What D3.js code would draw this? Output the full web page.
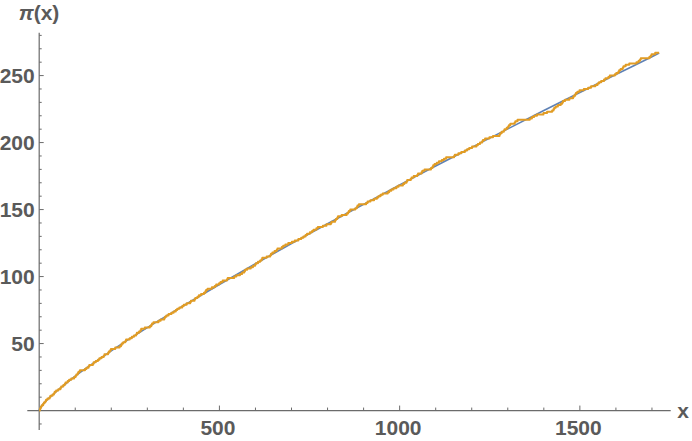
<!DOCTYPE html>
<html lang="en">
<head>
<meta charset="UTF-8">
<title>Prime counting</title>
<script src="https://d3js.org/d3.v7.min.js"></script>
<style>
    body { margin: 0; background: #fff; }
    .tickLabel { font-family: "Liberation Sans", Arial, sans-serif; font-weight: bold; font-size: 21px; fill: #5a5a5a; }
</style>
</head>
<body>
<script>

    // primes below the end of the plot range (jumps of pi(x))
    var primes = [2, 3, 5, 7, 11, 13, 17, 19, 23, 29, 31, 37, 41, 43, 47, 53, 59, 61, 67, 71, 73, 79, 83, 89, 97,
        101, 103, 107, 109, 113, 127, 131, 137, 139, 149, 151, 157, 163, 167, 173, 179, 181, 191, 193, 197, 199,
        211, 223, 227, 229, 233, 239, 241, 251, 257, 263, 269, 271, 277, 281, 283, 293,
        307, 311, 313, 317, 331, 337, 347, 349, 353, 359, 367, 373, 379, 383, 389, 397,
        401, 409, 419, 421, 431, 433, 439, 443, 449, 457, 461, 463, 467, 479, 487, 491, 499,
        503, 509, 521, 523, 541, 547, 557, 563, 569, 571, 577, 587, 593, 599,
        601, 607, 613, 617, 619, 631, 641, 643, 647, 653, 659, 661, 673, 677, 683, 691,
        701, 709, 719, 727, 733, 739, 743, 751, 757, 761, 769, 773, 787, 797,
        809, 811, 821, 823, 827, 829, 839, 853, 857, 859, 863, 877, 881, 883, 887,
        907, 911, 919, 929, 937, 941, 947, 953, 967, 971, 977, 983, 991, 997,
        1009, 1013, 1019, 1021, 1031, 1033, 1039, 1049, 1051, 1061, 1063, 1069, 1087, 1091, 1093, 1097,
        1103, 1109, 1117, 1123, 1129, 1151, 1153, 1163, 1171, 1181, 1187, 1193,
        1201, 1213, 1217, 1223, 1229, 1231, 1237, 1249, 1259, 1277, 1279, 1283, 1289, 1291, 1297,
        1301, 1303, 1307, 1319, 1321, 1327, 1361, 1367, 1373, 1381, 1399,
        1409, 1423, 1427, 1429, 1433, 1439, 1447, 1451, 1453, 1459, 1471, 1481, 1483, 1487, 1489, 1493, 1499,
        1511, 1523, 1531, 1543, 1549, 1553, 1559, 1567, 1571, 1579, 1583, 1597,
        1601, 1607, 1609, 1613, 1619, 1621, 1627, 1637, 1657, 1663, 1667, 1669, 1693, 1697, 1699,
        1709];

    // smooth curve (blue)
    var smoothX = [0, 1, 2, 5, 10, 25, 50, 75, 100, 150, 200, 300, 400, 500, 600, 700, 800, 900,
        1000, 1100, 1200, 1300, 1400, 1500, 1600, 1700, 1720];
    var smoothY = [0, 1, 1.54, 2.8, 4.56, 8.8, 14.8, 20.3, 25.66, 35.3, 44.6, 61.9, 78.2, 94.1, 109.6, 124.6, 139.4, 153.9,
        168.4, 182.5, 196.4, 210.2, 223.9, 237.4, 250.8, 264.1, 266.8];

    var xEnd = 1720;
    var xMajor = [500, 1000, 1500];
    var yMajor = [50, 100, 150, 200, 250];

    var width = 692;
    var height = 441;

    var svg = d3.select("body").append("svg")
        .attr("width", width)
        .attr("height", height);

    var x = d3.scaleLinear().domain([-33, 1752]).range([27.3, 670.7]);
    var y = d3.scaleLinear().domain([-14.5, 282]).range([430, 32.7]);

    var axisColor = "#6b6b6b";

    // axes lines
    svg.append("line")
        .attr("x1", x(-33)).attr("x2", x(1752))
        .attr("y1", y(0)).attr("y2", y(0))
        .attr("stroke", axisColor).attr("stroke-width", 1.2);
    svg.append("line")
        .attr("x1", x(0)).attr("x2", x(0))
        .attr("y1", y(-14.5)).attr("y2", y(282))
        .attr("stroke", axisColor).attr("stroke-width", 1.2);

    // x ticks
    var xTicks = d3.range(100, 1800, 100);
    svg.selectAll(".xTick")
        .data(xTicks)
        .enter()
        .append("line")
        .attr("class", "xTick")
        .attr("x1", function (d) { return x(d); })
        .attr("x2", function (d) { return x(d); })
        .attr("y1", y(0))
        .attr("y2", function (d) { return y(0) - (d % 500 === 0 ? 5 : 3); })
        .attr("stroke", axisColor);

    // y ticks
    var yTicks = d3.range(-10, 290, 10).filter(function (d) { return d !== 0; });
    svg.selectAll(".yTick")
        .data(yTicks)
        .enter()
        .append("line")
        .attr("class", "yTick")
        .attr("x1", x(0))
        .attr("x2", function (d) { return x(0) + (d % 50 === 0 ? 4.5 : 2.5); })
        .attr("y1", function (d) { return y(d); })
        .attr("y2", function (d) { return y(d); })
        .attr("stroke", axisColor);

    svg.selectAll(".xLabel")
        .data(xMajor)
        .enter()
        .append("text")
        .attr("class", "tickLabel")
        .attr("x", function (d) { return x(d) - 1.5; })
        .attr("y", 434.5)
        .attr("text-anchor", "middle")
        .text(function (d) { return d; });

    svg.selectAll(".yLabel")
        .data(yMajor)
        .enter()
        .append("text")
        .attr("class", "tickLabel")
        .attr("x", x(0) - 4.5)
        .attr("y", function (d) { return y(d) + 7; })
        .attr("text-anchor", "end")
        .text(function (d) { return d; });

    // axis names
    svg.append("text")
        .attr("class", "tickLabel")
        .attr("x", 683)
        .attr("y", 418)
        .attr("text-anchor", "middle")
        .text("x");

    var yName = svg.append("text")
        .attr("class", "tickLabel")
        .attr("x", 39)
        .attr("y", 20)
        .attr("text-anchor", "middle");
    yName.append("tspan").attr("font-style", "italic").text("π");
    yName.append("tspan").text("(x)");

    // smooth curve
    var smooth = smoothX.map(function (d, i) { return [d, smoothY[i]]; });
    svg.append("path")
        .datum(smooth)
        .attr("fill", "none")
        .attr("stroke", "#5E81B5")
        .attr("stroke-width", 1.6)
        .attr("d", d3.line()
            .x(function (d) { return x(d[0]); })
            .y(function (d) { return y(d[1]); })
            .curve(d3.curveMonotoneX));

    // step function of prime counts
    var steps = [[0, 0]];
    primes.forEach(function (p, i) {
        if (p <= xEnd) steps.push([p, i + 1]);
    });
    steps.push([xEnd, steps[steps.length - 1][1]]);

    svg.append("path")
        .datum(steps)
        .attr("fill", "none")
        .attr("stroke", "#E19C24")
        .attr("stroke-width", 2)
        .attr("stroke-linejoin", "round")
        .attr("d", d3.line()
            .x(function (d) { return x(d[0]); })
            .y(function (d) { return y(d[1]); })
            .curve(d3.curveStepAfter));

</script>
</body>
</html>
